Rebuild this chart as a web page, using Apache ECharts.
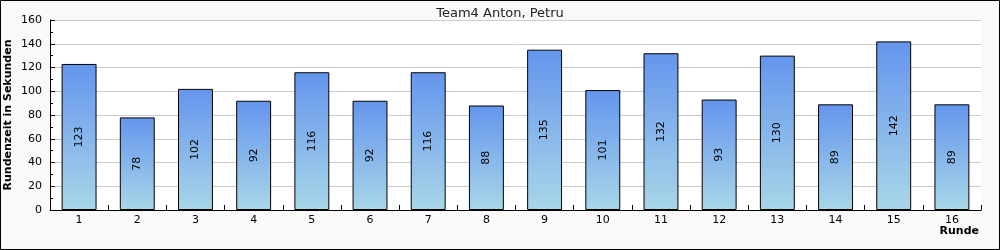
<!DOCTYPE html>
<html>
<head>
<meta charset="utf-8">
<script src="https://cdn.jsdelivr.net/npm/echarts@6/dist/echarts.min.js"></script>
<style>
  html, body { margin: 0; padding: 0; }
  #main { width: 1000px; height: 250px; }
</style>
</head>
<body>
<div id="main"></div>
<script>
const rounds = ["1", "2", "3", "4", "5", "6", "7", "8", "9", "10", "11", "12", "13", "14", "15", "16"];
const lapTimes = [123, 78, 102, 92, 116, 92, 116, 88, 135, 101, 132, 93, 130, 89, 142, 89];

const FONT = "'DejaVu Sans', sans-serif";
const myChart = echarts.init(document.getElementById("main"));
myChart.setOption({
  backgroundColor: "#F9F9F9",
  animation: false,
  textStyle: { fontFamily: FONT },
  title: {
    text: "Team4 Anton, Petru",
    left: "center",
    top: 2,
    textStyle: { fontFamily: FONT, fontSize: 13, fontWeight: "normal", color: "#222" },
  },
  graphic: [
    // outer frame
    {
      type: "rect",
      shape: { x: 0.5, y: 0.5, width: 999, height: 249 },
      style: { fill: "none", stroke: "#000", lineWidth: 1 },
      z: 100,
    },
    // x axis name, right-aligned with the plot edge
    {
      type: "text",
      right: 21,
      top: 226,
      style: {
        text: "Runde",
        font: "bold 11px 'DejaVu Sans', sans-serif",
        fill: "#000",
      },
    },
  ],
  grid: {
    left: 50,
    right: 19,
    top: 20,
    bottom: 40,
    outerBoundsMode: "none",
    containLabel: false,
    show: true,
    backgroundColor: "#fff",
    borderWidth: 0,
  },
  xAxis: {
    type: "category",
    data: rounds,
    axisLine: { lineStyle: { color: "#000", width: 1 } },
    axisTick: { show: true, inside: true, length: 5, lineStyle: { color: "#000" } },
    axisLabel: { fontFamily: FONT, color: "#000", fontSize: 11, margin: 5 },
  },
  yAxis: {
    type: "value",
    min: 0,
    max: 160,
    interval: 20,
    name: "Rundenzeit in Sekunden",
    nameLocation: "middle",
    nameGap: 36,
    nameMoveOverlap: false,
    nameTextStyle: { fontFamily: FONT, fontWeight: "bold", fontSize: 11, color: "#000" },
    axisLine: { show: true, lineStyle: { color: "#000", width: 1 } },
    axisTick: { show: true, inside: true, length: 5, lineStyle: { color: "#000" } },
    minorTick: { show: true, splitNumber: 2, length: 3, lineStyle: { color: "#000" } },
    axisLabel: { fontFamily: FONT, color: "#000", fontSize: 11, margin: 8 },
    splitLine: { show: true, lineStyle: { color: "#ccc", width: 1 } },
  },
  series: [
    {
      type: "bar",
      data: lapTimes,
      barWidth: "60%",
      itemStyle: {
        borderColor: "#000",
        borderWidth: 1,
        color: new echarts.graphic.LinearGradient(0, 0, 0, 1, [
          { offset: 0, color: "#6495ED" },
          { offset: 1, color: "#A8D6E8" },
        ]),
      },
      label: {
        show: true,
        position: "inside",
        rotate: 90,
        fontFamily: FONT,
        color: "#000",
        fontSize: 11,
      },
    },
  ],
});
</script>
</body>
</html>
